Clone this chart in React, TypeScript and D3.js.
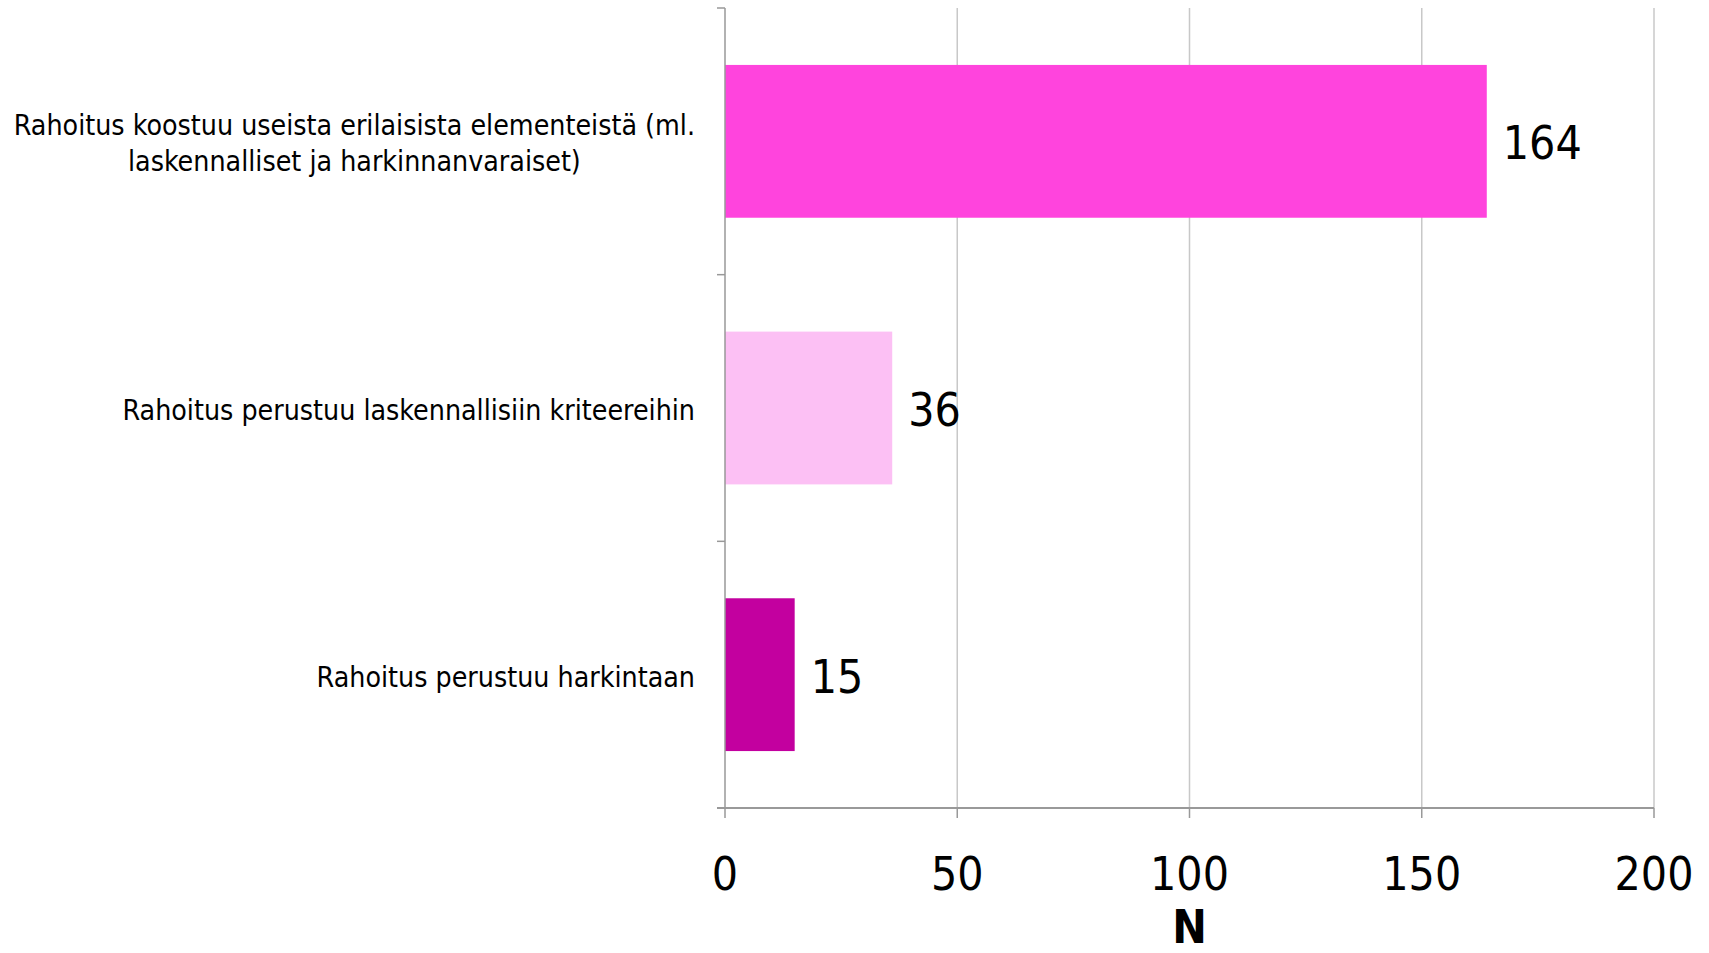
import React, { useEffect, useRef } from "react";
import * as d3 from "d3";

const categories = [
  ["Rahoitus koostuu useista erilaisista elementeistä (ml.", "laskennalliset ja harkinnanvaraiset)"],
  ["Rahoitus perustuu laskennallisiin kriteereihin"],
  ["Rahoitus perustuu harkintaan"],
];
const values = [164, 36, 15];
const colors = ["#FF44DD", "#FCC0F4", "#C3009F"];
const xTicks = [0, 50, 100, 150, 200];
const axisTitle = "N";

const W = 1709;
const H = 953;
const M = { left: 725, right: 1654, top: 8, bottom: 808 };
const FONT = "'DejaVu Sans Condensed', 'DejaVu Sans', Verdana, sans-serif";

export default function App() {
  const ref = useRef<SVGSVGElement | null>(null);

  useEffect(() => {
    const svg = d3.select(ref.current);
    svg.selectAll("*").remove();

    const x = d3.scaleLinear().domain([0, 200]).range([M.left, M.right]);
    const y = d3
      .scaleBand<number>()
      .domain(d3.range(categories.length))
      .range([M.top, M.bottom])
      .paddingInner(0.427)
      .paddingOuter(0.2135);
    const bandH = (M.bottom - M.top) / categories.length;
    const edges = d3.range(categories.length + 1).map((i) => M.top + bandH * i);

    // gridlines
    svg
      .append("g")
      .selectAll("line")
      .data(xTicks.slice(1))
      .join("line")
      .attr("x1", (d) => x(d))
      .attr("x2", (d) => x(d))
      .attr("y1", M.top)
      .attr("y2", M.bottom)
      .attr("stroke", "#C8C8C8")
      .attr("stroke-width", 1.5);

    // bars
    svg
      .append("g")
      .selectAll("rect")
      .data(values)
      .join("rect")
      .attr("x", x(0))
      .attr("y", (_, i) => y(i) as number)
      .attr("width", (d) => x(d) - x(0))
      .attr("height", y.bandwidth())
      .attr("fill", (_, i) => colors[i]);

    // left axis
    const ax = svg.append("g").attr("stroke", "#999");
    ax.append("line").attr("x1", M.left).attr("x2", M.left).attr("y1", M.top).attr("y2", M.bottom).attr("stroke-width", 1.5);
    ax.selectAll("line.t")
      .data(edges)
      .join("line")
      .attr("class", "t")
      .attr("x1", M.left - 8)
      .attr("x2", M.left)
      .attr("y1", (d) => d)
      .attr("y2", (d) => d)
      .attr("stroke-width", 1.5);

    // bottom axis
    ax.append("line").attr("x1", M.left - 8).attr("x2", M.right).attr("y1", M.bottom).attr("y2", M.bottom).attr("stroke-width", 2);
    ax.selectAll("line.xt")
      .data(xTicks)
      .join("line")
      .attr("class", "xt")
      .attr("x1", (d) => x(d))
      .attr("x2", (d) => x(d))
      .attr("y1", M.bottom)
      .attr("y2", M.bottom + 10)
      .attr("stroke-width", 1.5);

    svg
      .append("g")
      .selectAll("text")
      .data(xTicks)
      .join("text")
      .attr("x", (d) => x(d))
      .attr("y", 890)
      .attr("text-anchor", "middle")
      .attr("font-family", FONT)
      .attr("font-size", 46)
      .text((d) => d);

    svg
      .append("text")
      .attr("x", (M.left + M.right) / 2)
      .attr("y", 943)
      .attr("text-anchor", "middle")
      .attr("font-family", FONT)
      .attr("font-weight", "bold")
      .attr("font-size", 46)
      .text(axisTitle);

    // category labels: block right-aligned, lines centered on each other
    const labelRight = 695;
    const lh = 36;
    categories.forEach((lines, i) => {
      const cy = (y(i) as number) + y.bandwidth() / 2;
      const start = cy - ((lines.length - 1) * lh) / 2 + 12;
      const g = svg.append("g");
      const texts = lines.map((l, j) =>
        g
          .append("text")
          .attr("y", start + j * lh)
          .attr("font-family", FONT)
          .attr("font-size", 28.3)
          .attr("text-anchor", "middle")
          .text(l)
      );
      const maxW = d3.max(texts, (t) => (t.node() as SVGTextElement).getComputedTextLength()) ?? 0;
      texts.forEach((t) => t.attr("x", labelRight - maxW / 2));
    });

    // value labels
    svg
      .append("g")
      .selectAll("text")
      .data(values)
      .join("text")
      .attr("x", (d) => x(d) + 16)
      .attr("y", (_, i) => (y(i) as number) + y.bandwidth() / 2 + 18)
      .attr("font-family", FONT)
      .attr("font-size", 46)
      .text((d) => d);
  }, []);

  return (
    <div style={{ position: "fixed", left: 0, top: 0 }}>
      <svg ref={ref} width={W} height={H} style={{ display: "block", background: "#fff" }} />
    </div>
  );
}
